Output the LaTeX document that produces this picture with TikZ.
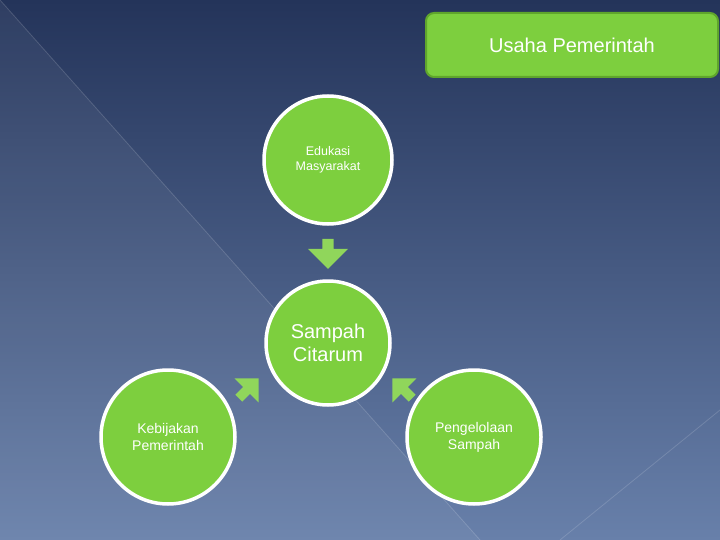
\documentclass[tikz,border=0pt]{standalone}
\usepackage{fontspec}
\setmainfont{Liberation Sans}
\usetikzlibrary{shapes.arrows}
\definecolor{gr}{HTML}{7DCF3E}
\definecolor{grd}{HTML}{5FA52C}
\begin{document}
\begin{tikzpicture}[x=1pt,y=-1pt,
  circ/.style={circle,fill=gr,draw=white,line width=3.5pt,minimum size=128pt,text=white,align=center,inner sep=0pt},
  arr/.style={single arrow,fill=gr!85!white,draw=none,minimum height=30pt,minimum width=40pt,single arrow head extend=8pt,inner sep=3pt}]
\useasboundingbox (0,0) rectangle (720,540);
\shade[top color={rgb,255:red,36;green,52;blue,90},bottom color={rgb,255:red,104;green,128;blue,170}] (0,0) rectangle (720,540);
\fill[white,opacity=0.05] (0,0) -- (480,540) -- (0,540) -- cycle;
\draw[white,opacity=0.15,line width=0.8pt] (0,0) -- (480,540);
\draw[white,opacity=0.15,line width=0.8pt] (720,410) -- (560,540);
\node[draw=grd,line width=2pt,fill=gr,rounded corners=8pt,minimum width=292pt,minimum height=64pt,text=white,font=\fontsize{20}{24}\selectfont] (top) at (572,45) {Usaha Pemerintah};
\node[circ,font=\fontsize{12.5}{15}\selectfont] (edu) at (328,160) {Edukasi\\Masyarakat};
\node[circ,font=\fontsize{20}{23}\selectfont,minimum size=124pt] (mid) at (328,343) {Sampah\\Citarum};
\node[circ,font=\fontsize{14}{17}\selectfont,minimum size=134pt] (keb) at (168,437) {Kebijakan\\Pemerintah};
\node[circ,font=\fontsize{14}{17}\selectfont,minimum size=134pt] (pen) at (474,437) {Pengelolaan\\Sampah};
\node[arr,rotate=-90] (a1) at (328,251) {};
\node[arr,rotate=45,minimum height=28pt,minimum width=34pt] (a2) at (247,390) {};
\node[arr,rotate=135,minimum height=28pt,minimum width=34pt] (a3) at (404,390) {};
\end{tikzpicture}
\end{document}
